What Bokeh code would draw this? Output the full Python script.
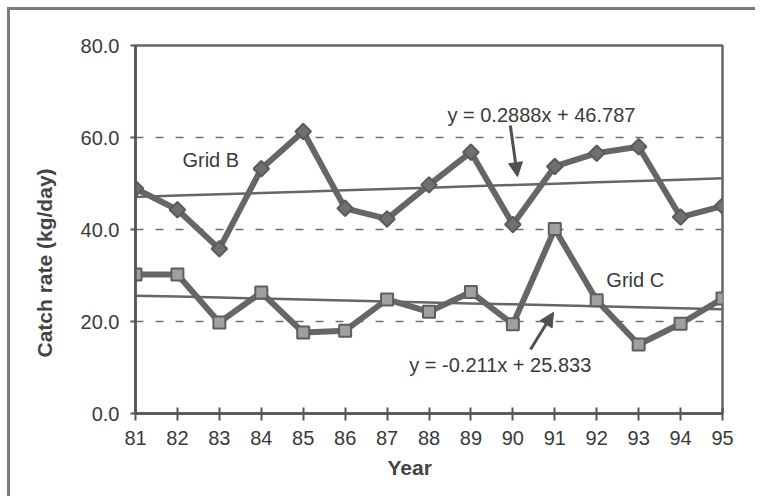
import math
from bokeh.plotting import figure
from bokeh.layouts import column
from bokeh.models import (ColumnDataSource, Label, Arrow, NormalHead, FixedTicker,
                          PrintfTickFormatter, Range1d, Title)
from bokeh.embed import file_html
from bokeh.resources import INLINE

# ---- data ----
years = [81, 82, 83, 84, 85, 86, 87, 88, 89, 90, 91, 92, 93, 94, 95]
grid_b = [48.9, 44.3, 35.8, 53.2, 61.3, 44.6, 42.3, 49.7, 56.8, 41.1, 53.7, 56.6, 58.0, 42.7, 45.1]
grid_c = [30.2, 30.2, 19.8, 26.3, 17.6, 18.0, 24.8, 22.1, 26.4, 19.4, 40.1, 24.6, 15.0, 19.5, 25.0]
trend_b_slope, trend_b_intercept = 0.2888, 46.787
trend_c_slope, trend_c_intercept = -0.211, 25.833
y_ticks = [0, 20, 40, 60, 80]
grid_levels = [20, 40, 60]
label_b = "Grid B"
label_c = "Grid C"
eq_b = "y = 0.2888x + 46.787"
eq_c = "y = -0.211x + 25.833"
y_title = "Catch rate (kg/day)"
x_title = "Year"

idx = list(range(1, len(years) + 1))
trend_b = [trend_b_slope * i + trend_b_intercept for i in idx]
trend_c = [trend_c_slope * i + trend_c_intercept for i in idx]

src = ColumnDataSource(dict(year=years, b=grid_b, c=grid_c, tb=trend_b, tc=trend_c))

FONT = "Liberation Sans"
TXT = "#3a3a3a"
LINE = "#666666"

p = figure(width=745, height=486, x_range=Range1d(81, 95), y_range=Range1d(0, 80),
           output_backend="svg", toolbar_location=None,
           min_border_left=125, min_border_right=33, min_border_top=35, min_border_bottom=83)
p.background_fill_color = "white"
p.border_fill_color = "white"
p.outline_line_color = "#666666"
p.outline_line_width = 2.5

# grid
p.xgrid.visible = False
p.ygrid.ticker = FixedTicker(ticks=grid_levels)
p.ygrid.grid_line_color = "#6e6e6e"
p.ygrid.grid_line_dash = "8 12"
p.ygrid.grid_line_width = 1.5

# axes
p.yaxis.ticker = FixedTicker(ticks=y_ticks)
p.yaxis.formatter = PrintfTickFormatter(format="%.1f")
p.xaxis.ticker = FixedTicker(ticks=years)
for ax in (p.xaxis, p.yaxis):
    ax.axis_line_color = "#555555"
    ax.axis_line_width = 2.5
    ax.major_tick_line_color = "#555555"
    ax.major_tick_line_width = 2
    ax.minor_tick_line_color = None
    ax.major_label_text_font = FONT
    ax.major_label_text_font_size = "20px"
    ax.major_label_text_color = TXT
p.xaxis.major_tick_in = 6
p.xaxis.major_tick_out = 7
p.xaxis.major_label_standoff = 10
p.yaxis.major_tick_in = 0
p.yaxis.major_tick_out = 5
p.yaxis.major_label_standoff = 11

# axis titles as side-panel titles (allows offset along the axis)
p.add_layout(Title(text=y_title, align="left", offset=56, standoff=40, vertical_align="top",
                   text_font=FONT, text_font_size="21px", text_font_style="bold",
                   text_color="#444444"), "left")
p.add_layout(Title(text=x_title, align="left", offset=252, standoff=12,
                   text_font=FONT, text_font_size="21px", text_font_style="bold",
                   text_color="#444444"), "below")

# trend lines
p.line("year", "tb", source=src, line_color=LINE, line_width=2.5)
p.line("year", "tc", source=src, line_color=LINE, line_width=2.5)

# data series
p.line("year", "b", source=src, line_color=LINE, line_width=6)
p.scatter("year", "b", source=src, marker="square", size=11, angle=math.pi / 4,
          fill_color="#707070", line_color="#5a5a5a", line_width=2)
p.line("year", "c", source=src, line_color=LINE, line_width=6)
p.scatter("year", "c", source=src, marker="square", size=12,
          fill_color="#a0a0a0", line_color="#5e5e5e", line_width=2)

# annotations
def lab(x, y, text, **kw):
    p.add_layout(Label(x=x, y=y, text=text, text_font=FONT, text_font_size="20px",
                       text_color=TXT, text_baseline="middle", **kw))

lab(82.12, 55.2, label_b)
lab(92.23, 29.1, label_c)
lab(88.44, 64.9, eq_b)
lab(87.53, 10.65, eq_c)

head = dict(size=14, fill_color="#505050", line_color="#505050")
p.add_layout(Arrow(end=NormalHead(**head), x_start=89.94, y_start=62.6, x_end=90.11, y_end=51.5,
                   line_color="#505050", line_width=3))
p.add_layout(Arrow(end=NormalHead(**head), x_start=90.42, y_start=13.9, x_end=90.97, y_end=22.0,
                   line_color="#505050", line_width=3))

# outer frame: top and left edges, drawn by the wrapping layout element
page = column(p, styles={"margin-left": "7px", "margin-top": "7px",
                         "border-top": "3px solid #7a7a7a", "border-left": "3px solid #7a7a7a"})

open("out.html", "w").write(file_html(page, INLINE))
